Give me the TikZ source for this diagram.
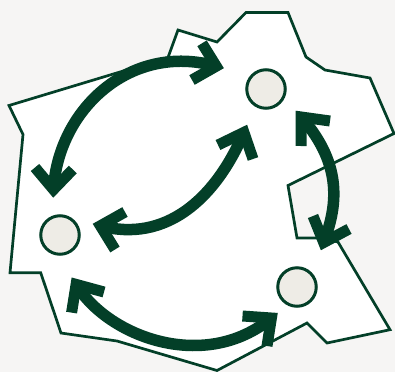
\documentclass[tikz,border=0pt]{standalone}
\definecolor{dkgreen}{HTML}{033F28}
\definecolor{paper}{HTML}{F6F5F4}
\definecolor{stone}{HTML}{EEECE6}
\tikzset{
  land/.style={draw=dkgreen,fill=white,line width=2.7pt,line join=miter},
  site/.style={circle,draw=dkgreen,fill=stone,line width=3pt,minimum size=38.5pt,inner sep=0pt},
  flow/.style={draw=dkgreen,line width=11.5pt},
  barb/.style={draw=dkgreen,line width=11pt,line join=miter,miter limit=10,line cap=butt}
}
\begin{document}
\begin{tikzpicture}[x=1pt,y=-1pt]
\useasboundingbox (0,0) rectangle (395,372);
\fill[paper] (0,0) rectangle (395,372);
\draw[land] (9,105.5)--(23,134.5)--(10,272.7)--(40.7,272.7)--(61,333)--(117,341)--(217,370.5)--(307,323)--(327,343)--(390,329.7)--(338,242)--(322,238)--(297,238)--(288,185.5)--(394,133.5)--(370,78)--(325,70)--(306,57)--(288,12.5)--(246,12.5)--(217,42)--(178,30)--(168,57.5)--cycle;
\node[site] (nw) at (266,89) {};
\node[site] (w) at (60,235) {};
\node[site] (se) at (297,287) {};
\coordinate (a1) at (216.2,66.2); \coordinate (a1p) at (202,43.3); \coordinate (a1q) at (192,80);
\coordinate (b1) at (53.5,189.5); \coordinate (b1p) at (35,167.5); \coordinate (b1q) at (72.8,169.5);
\coordinate (a2) at (100.4,225.8); \coordinate (a2p) at (125,212); \coordinate (a2q) at (115,249.5);
\coordinate (b2) at (243.9,132.4); \coordinate (b2p) at (218,145); \coordinate (b2q) at (253,159);
\coordinate (a3) at (301.2,117); \coordinate (a3p) at (301,146); \coordinate (a3q) at (330,121);
\coordinate (b3) at (323.7,242.5); \coordinate (b3p) at (313,216); \coordinate (b3q) at (349,229);
\coordinate (a4) at (76.1,284.4); \coordinate (a4p) at (104,292); \coordinate (a4q) at (71.6,312.6);
\coordinate (b4) at (271.4,318); \coordinate (b4p) at (242.5,316); \coordinate (b4q) at (267,346);
\draw[flow] (a1) .. controls (130,42) and (58,110) .. (b1);
\draw[flow] (a2) .. controls (165,243) and (215,200) .. (b2);
\draw[flow] (a3) .. controls (345,167) and (336,209) .. (b3);
\draw[flow] (a4) .. controls (108,337) and (205,373) .. (b4);
\draw[barb] (a1p)--(a1)--(a1q);
\draw[barb] (b1p)--(b1)--(b1q);
\draw[barb] (a2p)--(a2)--(a2q);
\draw[barb] (b2p)--(b2)--(b2q);
\draw[barb] (a3p)--(a3)--(a3q);
\draw[barb] (b3p)--(b3)--(b3q);
\draw[barb] (a4p)--(a4)--(a4q);
\draw[barb] (b4p)--(b4)--(b4q);
\end{tikzpicture}
\end{document}
